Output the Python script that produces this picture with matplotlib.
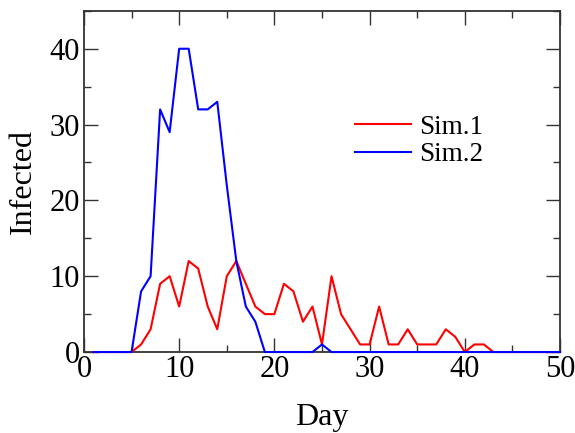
import numpy as np
import matplotlib
matplotlib.use("Agg")
import matplotlib.pyplot as plt
from matplotlib.ticker import MultipleLocator

# daily infected counts, day 1..50
days = np.arange(1, 51)
sim1 = [0, 0, 0, 0, 0, 1, 3, 9, 10, 6,
        12, 11, 6, 3, 10, 12, 9, 6, 5, 5,
        9, 8, 4, 6, 1, 10, 5, 3, 1, 1,
        6, 1, 1, 3, 1, 1, 1, 3, 2, 0,
        1, 1, 0, 0, 0, 0, 0, 0, 0, 0]
sim2 = [0, 0, 0, 0, 0, 8, 10, 32, 29, 40,
        40, 32, 32, 33, 22, 12, 6, 4, 0, 0,
        0, 0, 0, 0, 1, 0, 0, 0, 0, 0,
        0, 0, 0, 0, 0, 0, 0, 0, 0, 0,
        0, 0, 0, 0, 0, 0, 0, 0, 0, 0]

plt.rcParams['font.family'] = ['Liberation Serif', 'DejaVu Serif']

fig = plt.figure(figsize=(5.75, 4.33), dpi=100)
ax = fig.add_axes([0.146, 0.187, 0.828, 0.788])

ax.plot(days, sim1, color='red', lw=1.5, label='Sim.1', clip_on=False, zorder=3)
ax.plot(days, sim2, color='blue', lw=1.5, label='Sim.2', clip_on=False, zorder=3)

ax.set_xlim(0, 50)
ax.set_ylim(0, 45)
ax.xaxis.set_major_locator(MultipleLocator(10))
ax.xaxis.set_minor_locator(MultipleLocator(5))
ax.yaxis.set_major_locator(MultipleLocator(10))
ax.yaxis.set_minor_locator(MultipleLocator(5))
ax.tick_params(which='both', direction='in', top=True, right=True,
               labelsize=22, color='#333333')
ax.tick_params(axis='x', pad=2)
ax.tick_params(axis='y', pad=3)
ax.tick_params(which='major', length=10, width=1)
ax.tick_params(which='minor', length=5, width=1)
for s in ax.spines.values():
    s.set_color('#333333')
    s.set_linewidth(1.3)

ax.set_xlabel('Day', fontsize=23, labelpad=14)
ax.set_ylabel('Infected', fontsize=23, labelpad=8)

ax.legend(loc='upper left', bbox_to_anchor=(0.54, 0.735), frameon=False,
          fontsize=19.5, handlelength=2.1, handletextpad=0.3,
          labelspacing=0.1, borderpad=0)

fig.savefig('out.png', dpi=100)
